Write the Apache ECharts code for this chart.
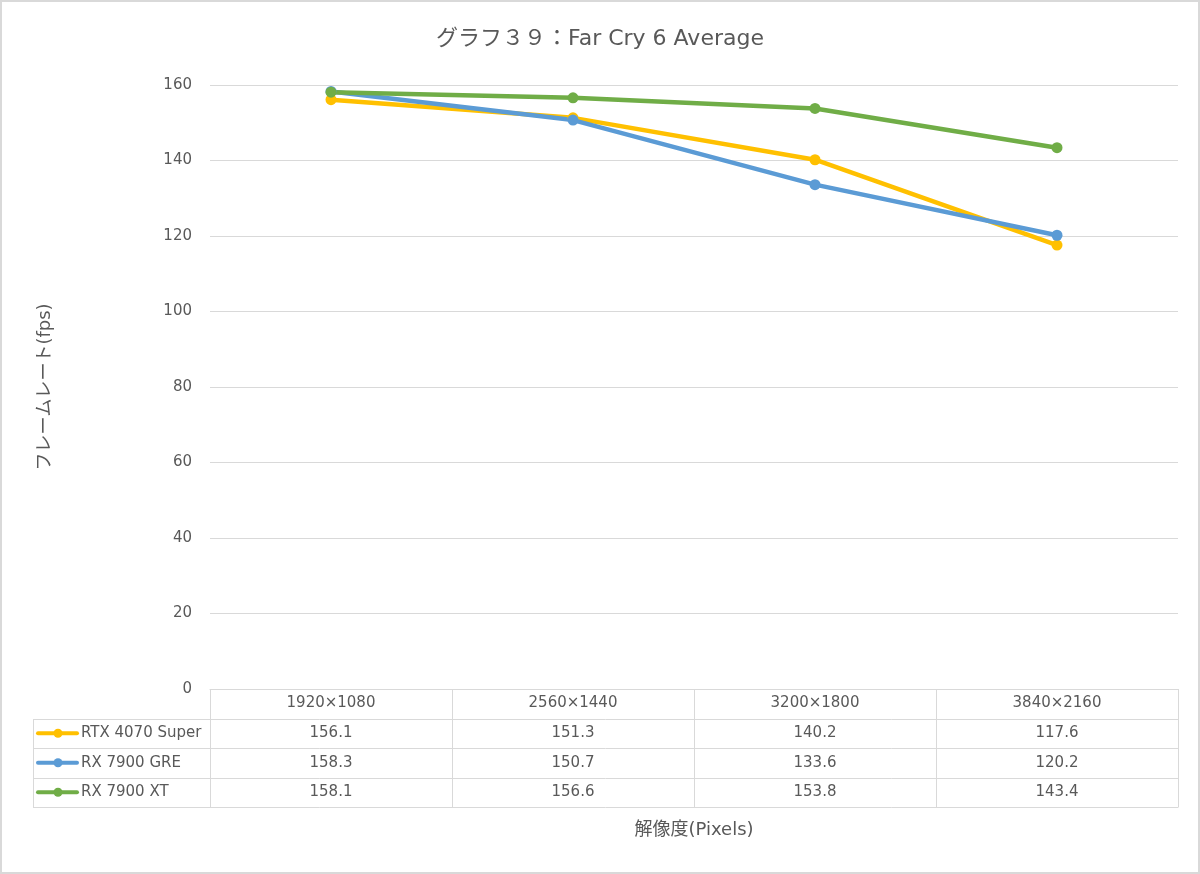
<!DOCTYPE html>
<html><head><meta charset="utf-8">
<script src="https://cdn.jsdelivr.net/npm/echarts@6/dist/echarts.min.js"></script>
<style>html,body{margin:0;padding:0;background:#fff}#c{width:1200px;height:874px}</style>
</head><body><div id="c"></div>
<script>
const titleText = 'グラフ３９：Far Cry 6 Average';
const categories = ['1920×1080', '2560×1440', '3200×1800', '3840×2160'];
const seriesNames = ['RTX 4070 Super', 'RX 7900 GRE', 'RX 7900 XT'];
const rtx4070Super = [156.1, 151.3, 140.2, 117.6];
const rx7900Gre = [158.3, 150.7, 133.6, 120.2];
const rx7900Xt = [158.1, 156.6, 153.8, 143.4];
const yMin = 0, yMax = 160, yStep = 20;
const yName = 'フレームレート(fps)';
const xName = '解像度(Pixels)';

const colors = ['#FFC000', '#5B9BD5', '#70AD47'];
const seriesData = [rtx4070Super, rx7900Gre, rx7900Xt];
const FONT = '"DejaVu Sans", "Noto Sans CJK JP", sans-serif';
const TXT = '#595959';
const LINE = '#d9d9d9';

const G = { left: 210, right: 1178, top: 85, bottom: 689 };
const rowH = 29.5;
const tableLeft = 33;
const colW = (G.right - G.left) / categories.length;

const chart = echarts.init(document.getElementById('c'));

const graphics = [];
graphics.push({ type: 'rect', shape: { x: 1, y: 1, width: 1198, height: 872 }, style: { fill: 'none', stroke: LINE, lineWidth: 2 }, silent: true });
const nRows = seriesNames.length;
for (let r = 1; r <= nRows + 1; r++) {
  const y = Math.round(G.bottom + r * rowH) + 0.5;
  graphics.push({ type: 'line', shape: { x1: tableLeft, y1: y, x2: G.right, y2: y }, style: { stroke: LINE, lineWidth: 1 }, silent: true });
}
for (let c = 0; c <= categories.length; c++) {
  const x = Math.round(G.left + c * colW) + 0.5;
  graphics.push({ type: 'line', shape: { x1: x, y1: G.bottom, x2: x, y2: Math.round(G.bottom + (nRows + 1) * rowH) + 0.5 }, style: { stroke: LINE, lineWidth: 1 }, silent: true });
}
graphics.push({ type: 'line', shape: { x1: tableLeft + 0.5, y1: Math.round(G.bottom + rowH) + 0.5, x2: tableLeft + 0.5, y2: Math.round(G.bottom + (nRows + 1) * rowH) + 0.5 }, style: { stroke: LINE, lineWidth: 1 }, silent: true });
seriesNames.forEach((name, i) => {
  const cy = G.bottom + rowH * (i + 1) + rowH / 2;
  graphics.push({ type: 'line', shape: { x1: 38, y1: cy, x2: 77, y2: cy }, style: { stroke: colors[i], lineWidth: 4, lineCap: 'round' }, silent: true });
  graphics.push({ type: 'circle', shape: { cx: 58, cy: cy, r: 4.5 }, style: { fill: colors[i] }, silent: true });
  graphics.push({ type: 'text', x: 81, y: cy, style: { text: name, fill: TXT, font: '15px ' + FONT, textVerticalAlign: 'middle', textAlign: 'left' }, silent: true });
  seriesData[i].forEach((v, j) => {
    graphics.push({ type: 'text', x: G.left + colW * (j + 0.5), y: cy, style: { text: v.toFixed(1), fill: TXT, font: '15px ' + FONT, textVerticalAlign: 'middle', textAlign: 'center' }, silent: true });
  });
});
graphics.push({ type: 'text', x: (G.left + G.right) / 2, y: 830, style: { text: xName, fill: TXT, font: '18px ' + FONT, textAlign: 'center', textVerticalAlign: 'middle' }, silent: true });
graphics.push({ type: 'text', x: 45, y: 387, rotation: Math.PI / 2, style: { text: yName, fill: TXT, font: '18px ' + FONT, textAlign: 'center', textVerticalAlign: 'middle' }, silent: true });

chart.setOption({
  backgroundColor: '#fff',
  animation: false,
  title: {
    text: titleText, left: 'center', top: 23,
    textStyle: { color: TXT, fontFamily: FONT, fontSize: 22, fontWeight: 'normal' }
  },
  grid: { left: G.left, right: 1200 - G.right, top: G.top, bottom: 874 - G.bottom, containLabel: false },
  xAxis: {
    type: 'category', data: categories, boundaryGap: true,
    axisLine: { lineStyle: { color: LINE } },
    axisTick: { show: false },
    axisLabel: { color: TXT, fontFamily: FONT, fontSize: 15, margin: 7 }
  },
  yAxis: {
    type: 'value', min: yMin, max: yMax, interval: yStep,
    axisLine: { show: false }, axisTick: { show: false },
    axisLabel: { color: TXT, fontFamily: FONT, fontSize: 15, margin: 18, padding: [3, 0, 0, 0] },
    splitLine: { lineStyle: { color: LINE, width: 1 } }
  },
  series: seriesNames.map((n, i) => ({
    name: n, type: 'line', data: seriesData[i],
    symbol: 'circle', symbolSize: 11,
    lineStyle: { color: colors[i], width: 4.5 },
    itemStyle: { color: colors[i] }
  })),
  graphic: graphics
});
</script></body></html>
